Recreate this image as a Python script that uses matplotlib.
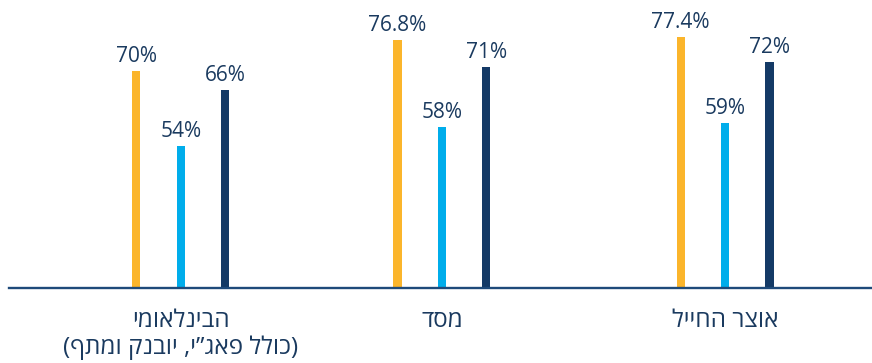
import numpy as np
import matplotlib
matplotlib.use('Agg')
import matplotlib.pyplot as plt

# data
groups = ['הבינלאומי\n(כולל פאג”י, יובנק ומתף)', 'מסד', 'אוצר החייל']
s_orange = [70, 76.8, 77.4]
s_blue = [54, 58, 59]
s_navy = [66, 71, 72]
labels_orange = ['70%', '76.8%', '77.4%']
labels_blue = ['54%', '58%', '59%']
labels_navy = ['66%', '71%', '72%']

c_orange = '#FBB52B'
c_blue = '#00ADEB'
c_navy = '#143A66'
c_text = '#1A3A5F'


def visual(s):
    # matplotlib has no bidi support: flip each line and mirror brackets
    swap = {'(': ')', ')': '('}
    out = []
    for line in s.split('\n'):
        out.append(''.join(swap.get(ch, ch) for ch in reversed(line)))
    return '\n'.join(out)


plt.rcParams['font.family'] = ['Open Sans', 'DejaVu Sans']

fig = plt.figure(figsize=(8.72, 3.63), dpi=100)
ax = fig.add_axes([9 / 872, 75 / 363, 863 / 872, 288 / 363])

group_x = np.array([0.0, 0.96, 2.0])
off = 0.1632
w = 0.03
y_floor = 23.6

for vals, labs, col, dx in [(s_orange, labels_orange, c_orange, -off),
                            (s_blue, labels_blue, c_blue, 0.0),
                            (s_navy, labels_navy, c_navy, off)]:
    xs = group_x + dx
    heights = np.array(vals) - y_floor
    ax.bar(xs, heights, width=w, bottom=y_floor, color=col, zorder=2)
    for x, v, lab in zip(xs, vals, labs):
        ax.annotate(lab, (x, v), xytext=(0, 6.5), textcoords='offset points',
                    ha='center', va='baseline', fontsize=15, color=c_text)

ax.set_xlim(-0.631, 2.540)
ax.set_ylim(y_floor, 85.3)
ax.set_xticks(group_x)
ax.set_xticklabels([visual(g) for g in groups], fontsize=17.5, color=c_text,
                   linespacing=1.15)
ax.tick_params(axis='x', length=0, pad=15)
ax.set_yticks([])
for side in ['top', 'left', 'right']:
    ax.spines[side].set_visible(False)
ax.spines['bottom'].set_color('#1E4A7A')
ax.spines['bottom'].set_linewidth(1.7)
ax.spines['bottom'].set_zorder(3)

fig.savefig('out.png', dpi=100)
